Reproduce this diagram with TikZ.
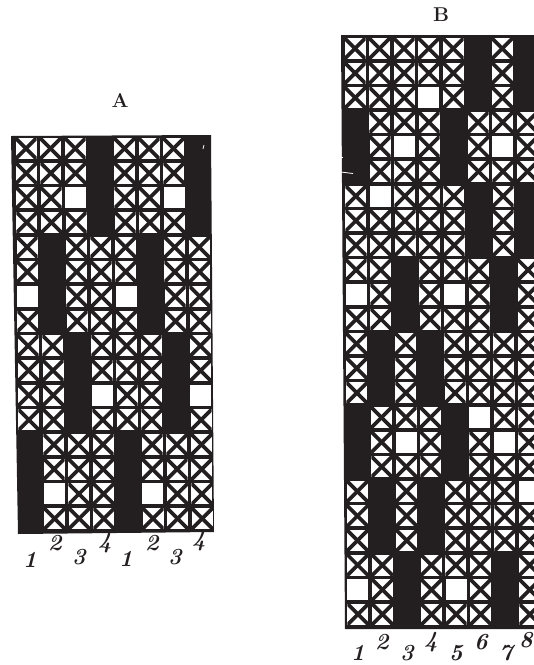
\documentclass[tikz,border=0pt]{standalone}
\definecolor{ink}{HTML}{231F20}
\tikzset{
  x=1pt,y=-1pt,
  inkfill/.style={fill=ink,draw=none},
  crossline/.style={draw=ink,line width=3.7pt,line cap=butt},
  fleck/.style={draw=white,line width=0.8pt},
  titletext/.style={text=ink,font=\fontsize{20}{20}\selectfont\bfseries,inner sep=0pt},
  digittext/.style={text=ink,font=\fontsize{23}{23}\selectfont\bfseries\itshape,inner sep=0pt}
}
% arguments: x0, y0, x pitch, y pitch, x shift per row, rows
\newcommand{\weavegrid}[6]{%
  \foreach \rowdata [count=\ri from 0] in {#6}{%
    \foreach \t [count=\ci from 0] in \rowdata{%
      \pgfmathsetmacro{\cx}{#1+\ci*#3+\ri*#5}%
      \pgfmathsetmacro{\cy}{#2+\ri*#4}%
      \if\t b\relax\else
        \fill[white] (\cx,\cy) rectangle ++(21,21);
      \fi
      \if\t x
        \begin{scope}
        \clip (\cx,\cy) rectangle ++(21,21);
        \draw[crossline] (\cx,\cy) -- ++(21,21);
        \draw[crossline] (\cx,\cy+21) -- ++(21,-21);
        \end{scope}
      \fi
    }%
  }%
}
\begin{document}
\begin{tikzpicture}
\useasboundingbox (0,0) rectangle (534,665);
\clip (0,0) rectangle (534,665);
% Figure A
\fill[inkfill] (11,136) -- (211,135) -- (214,532) -- (18,534) -- cycle;
\weavegrid{15.5}{138}{24.6}{24.67}{0.27}{
 {x,x,x,b,x,x,x,b},
 {x,x,x,b,x,x,x,b},
 {x,x,o,b,x,x,o,b},
 {x,x,x,b,x,x,x,b},
 {x,b,x,x,x,b,x,x},
 {x,b,x,x,x,b,x,x},
 {o,b,x,x,o,b,x,x},
 {x,b,x,x,x,b,x,x},
 {x,x,b,x,x,x,b,x},
 {x,x,b,x,x,x,b,x},
 {x,x,b,o,x,x,b,o},
 {x,x,b,x,x,x,b,x},
 {b,x,x,x,b,x,x,x},
 {b,x,x,x,b,x,x,x},
 {b,o,x,x,b,o,x,x},
 {b,x,x,x,b,x,x,x}}
\draw[fleck] (204,145) -- (203,149);
% Figure B
\fill[inkfill] (341,35) -- (536,35) -- (536,629) -- (345,629) -- cycle;
\weavegrid{344.5}{38}{24.55}{24.6}{0.13}{
 {x,x,x,x,x,b,x,b},
 {x,x,x,x,x,b,x,b},
 {x,x,x,o,x,b,x,b},
 {b,x,x,x,b,x,x,x},
 {b,x,o,x,b,x,o,x},
 {b,x,x,x,b,x,x,x},
 {x,o,x,x,x,b,x,b},
 {x,x,x,x,x,b,x,b},
 {x,x,x,x,x,b,x,b},
 {x,x,b,x,x,x,b,x},
 {o,x,b,x,o,x,b,x},
 {x,x,b,x,x,x,b,x},
 {x,b,x,b,x,x,x,x},
 {x,b,x,b,x,x,x,x},
 {x,b,x,b,x,x,x,x},
 {b,x,x,x,b,o,x,x},
 {b,x,o,x,b,x,o,x},
 {b,x,x,x,b,x,x,x},
 {x,b,x,b,x,x,x,o},
 {x,b,x,b,x,x,x,x},
 {x,b,x,b,x,x,x,x},
 {x,x,b,x,x,x,b,x},
 {o,x,b,x,o,x,b,x},
 {x,x,b,x,x,x,b,x}}
\draw[fleck] (341,172) -- (353,173.5);
\draw[fleck] (341,157) -- (343,157);
% Titles
\node[titletext] (titleA) at (120,100) {A};
\node[titletext] (titleB) at (441,15) {B};
% Thread numbers A
\node[digittext] (a1) at (30,560) {1};
\node[digittext] (a2) at (55,543) {2};
\node[digittext] (a3) at (79,557) {3};
\node[digittext] (a4) at (105,543) {4};
\node[digittext] (a5) at (126,559) {1};
\node[digittext] (a6) at (152,543) {2};
\node[digittext] (a7) at (175,557) {3};
\node[digittext] (a8) at (199,541) {4};
% Thread numbers B
\node[digittext] (b1) at (358,653) {1};
\node[digittext] (b2) at (382,642) {2};
\node[digittext] (b3) at (407,653) {3};
\node[digittext] (b4) at (431,642) {4};
\node[digittext] (b5) at (456,653) {5};
\node[digittext] (b6) at (481,642) {6};
\node[digittext] (b7) at (506,653) {7};
\node[digittext] (b8) at (526,640) {8};
\end{tikzpicture}
\end{document}
